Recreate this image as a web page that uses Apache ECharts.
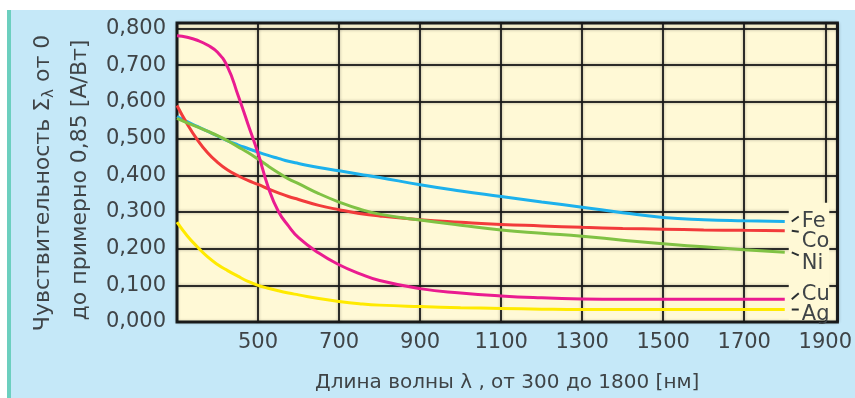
<!DOCTYPE html>
<html><head><meta charset="utf-8">
<script src="https://cdn.jsdelivr.net/npm/echarts@6/dist/echarts.min.js"></script>
<style>
html,body{margin:0;padding:0;background:#fff;width:855px;height:398px;overflow:hidden}
#bg{position:absolute;left:7px;top:10px;width:844px;height:388px;background:#C5E8F8;border-left:4px solid #6CCFBF}
#c{position:absolute;left:0;top:0;width:855px;height:398px}
</style>
</head><body><div id="bg"></div><div id="c"></div>
<script>
// Wavelength (nm)
const wavelengths = [300,325,350,375,400,425,450,475,500,525,550,575,600,650,700,750,800,900,1000,1100,1200,1300,1400,1500,1600,1700,1800];
// Sensitivity [A/W]
const fe = [0.560,0.546,0.533,0.520,0.507,0.494,0.483,0.473,0.463,0.454,0.446,0.438,0.432,0.421,0.412,0.403,0.394,0.374,0.357,0.342,0.327,0.313,0.298,0.285,0.279,0.276,0.274];
const co = [0.590,0.540,0.497,0.462,0.435,0.414,0.399,0.386,0.375,0.363,0.352,0.342,0.334,0.318,0.306,0.296,0.289,0.279,0.272,0.266,0.262,0.258,0.255,0.253,0.251,0.250,0.249];
const ni = [0.555,0.543,0.532,0.520,0.508,0.494,0.478,0.462,0.444,0.425,0.407,0.390,0.377,0.350,0.327,0.308,0.294,0.278,0.264,0.251,0.242,0.234,0.223,0.213,0.205,0.197,0.190];
const cu = [0.780,0.776,0.768,0.755,0.735,0.695,0.620,0.540,0.460,0.368,0.302,0.262,0.230,0.188,0.156,0.132,0.113,0.091,0.079,0.071,0.066,0.063,0.062,0.062,0.062,0.062,0.062];
const ag = [0.272,0.235,0.205,0.178,0.157,0.140,0.125,0.111,0.100,0.092,0.085,0.079,0.074,0.064,0.056,0.050,0.046,0.042,0.039,0.037,0.035,0.034,0.034,0.034,0.034,0.034,0.034];
const seriesNames = ['Fe','Co','Ni','Cu','Ag'];
const xTickLabels = ['500','700','900','1100','1300','1500','1700','1900'];
const yTickLabels = ['0,000','0,100','0,200','0,300','0,400','0,500','0,600','0,700','0,800'];

const colors = ['#1DB1EC','#F23B3B','#80C244','#EA1C90','#FFEA00'];
const FONT = '"DejaVu Sans", sans-serif';
const TXT = '#3f4447';
const allSeries = [fe, co, ni, cu, ag];

const chart = echarts.init(document.getElementById('c'), null, {renderer:'canvas'});
const option = {
  backgroundColor: 'transparent',
  animation: false,
  grid: {left:177, top:23, right:13, bottom:65, show:true, backgroundColor:'#FFF9D6', borderColor:'#1e2426', borderWidth:3},
  xAxis: {
    type:'value', min:300, max:1930, interval:200,
    axisLine:{show:false}, axisTick:{show:false},
    splitLine:{show:true, lineStyle:{color:'rgba(25,25,25,0.9)', width:2, shadowColor:'rgba(0,0,0,0.35)', shadowBlur:3}},
    axisLabel:{margin:10, color:TXT, fontFamily:FONT, fontSize:21,
      formatter: v => { const s = String(Math.round(v)); return xTickLabels.indexOf(s) >= 0 ? s : ''; }},
    name:'Длина волны λ , от 300 до 1800 [нм]', nameLocation:'middle', nameGap:51,
    nameTextStyle:{color:TXT, fontFamily:FONT, fontSize:20}
  },
  yAxis: {
    type:'value', min:0, max:0.815, interval:0.1,
    axisLine:{show:false}, axisTick:{show:false},
    splitLine:{show:true, lineStyle:{color:'rgba(25,25,25,0.9)', width:2, shadowColor:'rgba(0,0,0,0.35)', shadowBlur:3}},
    axisLabel:{margin:11, color:TXT, fontFamily:FONT, fontSize:21,
      formatter: v => { const i = Math.round(v*10); return (Math.abs(v*10 - i) < 1e-6 && i < yTickLabels.length) ? yTickLabels[i] : ''; }}
  },
  series: seriesNames.map((n, k) => ({
    name:n, type:'line', smooth:0.5, symbol:'none', z:3,
    lineStyle:{color:colors[k], width:3},
    data: wavelengths.map((w, i) => [w, allSeries[k][i]])
  }))
};
chart.setOption(option);

// annotations computed from the axes
const px = (x, y) => chart.convertToPixel({gridIndex:0}, [x, y]);
const lastX = wavelengths[wavelengths.length-1];
const boxL = px(lastX, 0)[0] + 4;
const boxR = px(1900, 0)[0] + 4;
const boxT = px(0, 0.325)[1];
const boxB = px(0, 0)[1] - 2;
const labelOffsets = [0, 11, 11, -5, 5];
const leaderDy = [-5, 1, 3, -6, 0];
const g = [{type:'rect', z:50, shape:{x:boxL, y:boxT, width:boxR-boxL, height:boxB-boxT}, style:{fill:'#FFF9D6'}}];
seriesNames.forEach((n, k) => {
  const e = px(lastX, allSeries[k][allSeries[k].length-1]);
  const ly = e[1] + labelOffsets[k];
  g.push({type:'line', z:51, shape:{x1:e[0]+7, y1:e[1], x2:e[0]+14, y2:e[1]+leaderDy[k]}, style:{stroke:'#2a2f31', lineWidth:2}});
  g.push({type:'text', z:52, x:e[0]+17, y:ly, style:{text:n, fill:TXT, font:'21px "DejaVu Sans"', verticalAlign:'middle', align:'left'}});
});
g.push({type:'text', z:52, rotation:Math.PI/2, x:43, y:183, style:{
  text:'{t|Чувствительность Σ}{s|λ}{t| от 0}', align:'center', verticalAlign:'middle',
  rich:{t:{fontFamily:FONT, fontSize:22, fill:TXT, color:TXT, lineHeight:28}, s:{fontFamily:FONT, fontSize:15, color:TXT, fill:TXT, lineHeight:12, verticalAlign:'bottom'}}
}});
g.push({type:'text', z:52, rotation:Math.PI/2, x:80, y:180, style:{
  text:'до примерно 0,85 [А/Вт]', align:'center', verticalAlign:'middle', fill:TXT, font:'22px "DejaVu Sans"'
}});
chart.setOption({graphic:g});
</script>
</body></html>
